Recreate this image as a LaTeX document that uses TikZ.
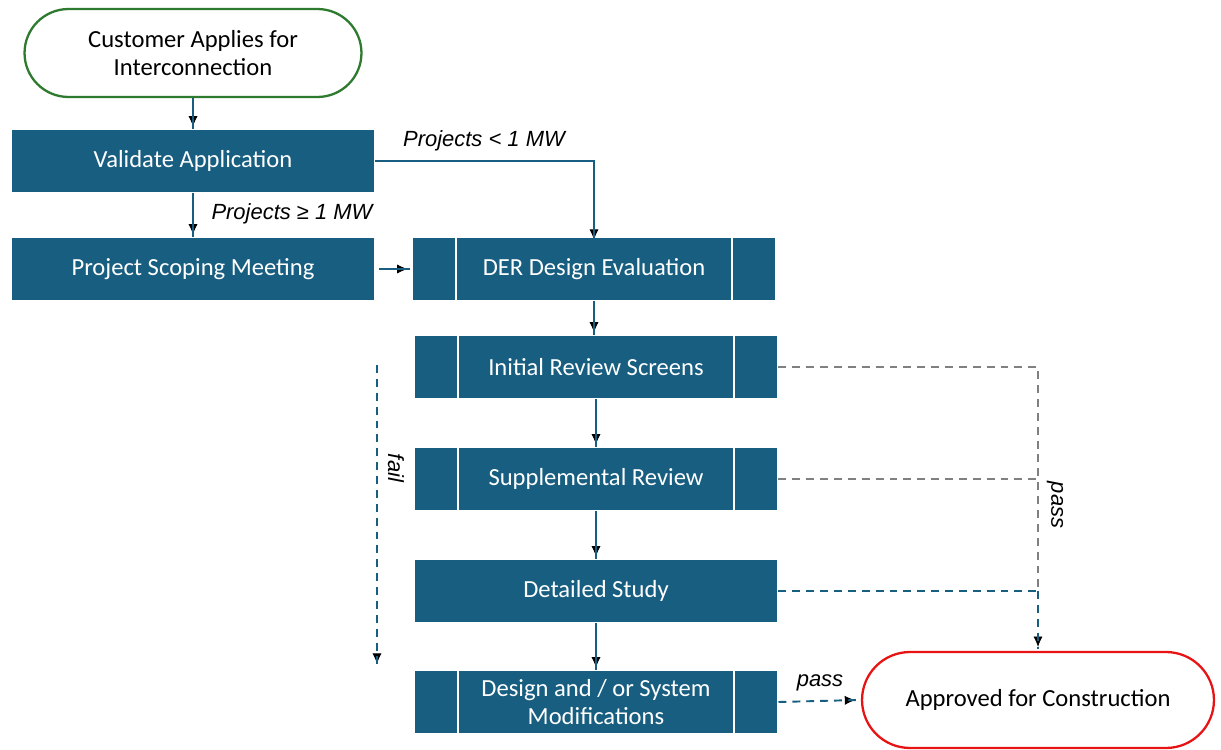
\documentclass[tikz,border=0pt]{standalone}
\usepackage{fontspec}
\setmainfont{Carlito}
\newfontfamily\notefont{Liberation Sans}
\usepackage{xcolor}
\definecolor{deblue}{RGB}{24,94,128}
\definecolor{startgreen}{RGB}{46,122,46}
\definecolor{endred}{RGB}{232,20,20}
\definecolor{passgray}{RGB}{128,128,128}
\usetikzlibrary{positioning, calc, shapes, arrows.meta, decorations.markings}

\tikzstyle{Proc} = [
rectangle, fill=deblue, draw=white, line width=0.6pt,
text=white, align=center, inner sep=0pt,
minimum width=7.28cm, minimum height=1.27cm]
\tikzstyle{Subproc} = [
Proc,
path picture={
\draw[white, line width=1.4pt]
([xshift=0.88cm]path picture bounding box.north west) --
([xshift=0.88cm]path picture bounding box.south west);
\draw[white, line width=1.4pt]
([xshift=-0.88cm]path picture bounding box.north east) --
([xshift=-0.88cm]path picture bounding box.south east);}]
\tikzstyle{Term} = [
rectangle, fill=white, line width=1.3pt, align=center, inner sep=0pt]
\tikzstyle{Arrow} = [
line width=1.1pt, color=deblue,
decoration={
markings,
mark=at position 0.9999 with {
\arrow[solid]{Latex[length=7.5pt, width=6.5pt]}}},
preaction = {decorate}]
\tikzstyle{Dash} = [line width=1.1pt, dash pattern=on 4.5pt off 3.4pt]
\tikzstyle{Note} = [font=\notefont\itshape\fontsize{12.5}{14}\selectfont, text=black]

\begin{document}
\begin{tikzpicture}[x=0.02cm, y=-0.02cm, font=\fontsize{14}{15.5}\selectfont]
    \useasboundingbox (0,0) rectangle (1221,750);

    \node [Term, draw=startgreen, rounded corners=0.88cm,
        minimum width=6.74cm, minimum height=1.76cm] (apply) at (193,53)
        {Customer Applies for\\Interconnection};
    \node [Proc] (validate) at (193,161) {Validate Application};
    \node [Proc] (scoping) at (193,269) {Project Scoping Meeting};
    \node [Subproc] (der) at (594,269) {DER Design Evaluation};
    \node [Subproc] (initial) at (596,367) {Initial Review Screens};
    \node [Subproc] (supp) at (596,479) {Supplemental Review};
    \node [Proc] (detail) at (596,591) {Detailed Study};
    \node [Subproc] (modify) at (596,702) {Design and / or System\\Modifications};
    \node [Term, draw=endred, rounded corners=0.96cm,
        minimum width=7.04cm, minimum height=1.92cm] (approved) at (1038,700)
        {Approved for Construction};

    % main flow
    \draw[Arrow] (apply.south) -- (validate.north);
    \draw[Arrow] (validate.south) -- (scoping.north);
    \draw[Arrow] (validate.east) -| ([yshift=-3pt]der.north);
    \draw[Arrow, shorten <=2pt] (scoping.east) -- ([xshift=-1pt]der.west);
    \draw[Arrow] (der.south) -- (der.south |- initial.north);
    \draw[Arrow] (initial.south) -- (supp.north);
    \draw[Arrow] (supp.south) -- (detail.north);
    \draw[Arrow] (detail.south) -- (modify.north);

    \node [Note] (small) at (484,141) {Projects < 1 MW};
    \node [Note] (large) at (292,214) {Projects ≥ 1 MW};

    % fail path
    \coordinate (failtop) at (377,365);
    \coordinate (failbot) at (377,666);
    \draw[Arrow, Dash] (failtop) -- (failbot);
    \node [Note, rotate=-90] (fail) at (396,468) {fail};

    % pass paths
    \coordinate (join) at (approved.north |- detail.east);
    \draw[Dash, color=passgray] (initial.east) -| (join);
    \draw[Dash, color=passgray] (supp.east) -- (supp.east -| join);
    \draw[Dash, color=deblue] (detail.east) -- (join);
    \draw[Arrow, Dash] (join) -- ([yshift=1pt]approved.north);
    \node [Note, rotate=-90] (pass1) at (1055,505) {pass};
    \draw[Arrow, Dash] (modify.east) -- ([xshift=-2pt]approved.west);
    \node [Note] (pass2) at (820,683) {pass};
\end{tikzpicture}
\end{document}
